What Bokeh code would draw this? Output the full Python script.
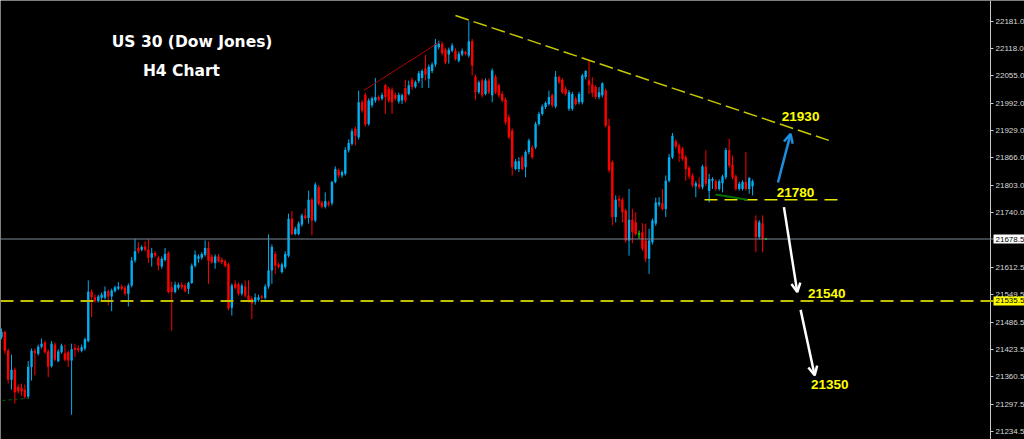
from bokeh.plotting import figure
from bokeh.models import Range1d, FixedTicker, Span, Label, Arrow, OpenHead, NumeralTickFormatter
from bokeh.core.properties import value
from bokeh.embed import file_html
from bokeh.resources import INLINE

# ---- H4 candles ----
opens = [21452,21464,21421,21354,21377,21337,21334,21331,21315,21383,
         21421,21414,21430,21440,21419,21385,21435,21397,21417,21415,
         21417,21398,21426,21425,21421,21426,21443,21557,21544,21535,
         21543,21543,21558,21546,21558,21564,21569,21566,21552,21571,
         21629,21658,21654,21661,21654,21635,21646,21635,21615,21630,
         21646,21567,21556,21566,21573,21571,21564,21577,21617,21633,
         21635,21642,21658,21638,21623,21638,21630,21627,21620,21520,
         21574,21574,21552,21569,21548,21541,21533,21538,21546,21543,
         21569,21606,21644,21620,21602,21614,21640,21725,21690,21690,
         21712,21733,21727,21769,21721,21798,21763,21753,21763,21761,
         21810,21837,21825,21829,21883,21898,21933,21913,21994,22011,
         21944,21987,21998,22006,22002,22033,22025,22023,22011,21996,
         21998,22027,22013,22046,22030,22043,22050,22072,22048,22066,
         22081,22121,22129,22115,22104,22113,22113,22090,22104,22110,
         22102,22135,22053,22017,22044,22013,22044,22010,22053,22033,
         22013,22000,21960,21929,21840,21840,21867,21844,21879,21890,
         21890,21944,21967,21983,21990,22010,21984,22052,22046,22025,
         21979,21979,22002,21994,21994,22052,22044,22035,22029,22006,
         22010,22021,21940,21856,21729,21771,21769,21744,21675,21723,
         21717,21690,21694,21675,21633,21671,21714,21758,21761,21748,
         21813,21867,21904,21894,21887,21867,21843,21825,21800,21806,
         21798,21846,21789,21813,21812,21794,21807,21821,21883,21850,
         21823,21794,21794,21810,21794,21800,21721,21683,21714,21678.5]
highs = [21472,21467,21426,21412,21382,21343,21345,21343,21397,21426,
         21426,21435,21449,21444,21424,21443,21440,21424,21437,21435,
         21421,21437,21437,21433,21435,21451,21583,21562,21550,21550,
         21555,21569,21562,21564,21571,21579,21574,21571,21576,21637,
         21679,21671,21664,21673,21679,21658,21650,21640,21638,21658,
         21650,21580,21580,21578,21579,21576,21580,21622,21652,21643,
         21648,21675,21673,21643,21643,21643,21636,21631,21624,21576,
         21583,21578,21576,21583,21583,21546,21553,21550,21550,21574,
         21689,21666,21650,21624,21624,21650,21737,21743,21707,21719,
         21737,21748,21790,21774,21809,21803,21767,21786,21767,21813,
         21846,21841,21837,21890,21908,21933,21938,22021,21999,22016,
         22003,22007,22050,22010,22016,22036,22030,22028,22016,22016,
         22014,22046,22044,22051,22044,22066,22070,22103,22081,22086,
         22140,22136,22134,22120,22120,22130,22118,22111,22118,22113,
         22181,22140,22058,22044,22049,22049,22049,22072,22058,22037,
         22019,22005,21966,21934,21863,21867,21872,21883,21910,21895,
         21949,21972,21989,21996,22021,22014,22066,22056,22050,22030,
         22022,22018,22007,22018,22060,22068,22090,22052,22033,22029,
         22040,22026,21956,21860,21779,21779,21774,21748,21794,21748,
         21740,21698,21715,21714,21702,21726,21774,21775,21794,21825,
         21875,21923,21909,21899,21891,21872,21847,21830,21812,21821,
         21850,21883,21829,21821,21816,21816,21827,21889,21910,21871,
         21827,21811,21814,21879,21821,21816,21733,21722,21733,21680]
lows = [21447,21414,21345,21331,21299,21322,21317,21310,21310,21352,
        21364,21410,21426,21414,21360,21382,21396,21394,21414,21396,
        21383,21273,21406,21417,21417,21421,21440,21498,21532,21532,
        21537,21539,21525,21512,21555,21560,21560,21548,21523,21567,
        21624,21645,21650,21650,21623,21615,21636,21606,21610,21627,
        21553,21467,21553,21562,21562,21555,21552,21575,21613,21624,
        21631,21638,21575,21622,21610,21624,21620,21613,21514,21502,
        21562,21548,21548,21544,21532,21494,21527,21534,21539,21539,
        21564,21575,21598,21610,21599,21610,21636,21687,21687,21687,
        21707,21723,21714,21687,21717,21756,21749,21749,21753,21756,
        21807,21820,21820,21825,21878,21894,21894,21908,21970,21938,
        21940,21982,21993,21996,21998,21967,21993,21967,21998,21991,
        21990,21993,22010,22023,22026,22038,22027,22044,22027,22061,
        22076,22116,22102,22082,22083,22109,22090,22086,22100,22102,
        22097,22056,22000,22013,22005,22010,22013,21994,22013,22005,
        21994,21943,21909,21825,21837,21833,21837,21821,21874,21863,
        21886,21940,21963,21978,21986,21982,21980,22036,22013,22009,
        21974,21974,21986,21989,21989,22047,22013,22006,22001,22001,
        22005,21936,21832,21710,21717,21752,21717,21670,21640,21669,
        21686,21679,21651,21625,21598,21666,21709,21753,21744,21729,
        21809,21863,21887,21856,21859,21813,21817,21797,21775,21793,
        21793,21801,21763,21794,21790,21790,21786,21816,21843,21816,
        21790,21790,21790,21790,21783,21779,21648,21678,21648,21677]
closes = [21464,21421,21354,21377,21325,21327,21327,21314,21384,21421,
          21415,21430,21437,21417,21384,21437,21400,21419,21433,21400,
          21398,21424,21424,21423,21429,21447,21557,21544,21535,21546,
          21550,21558,21546,21560,21567,21569,21564,21552,21571,21629,
          21650,21650,21660,21654,21635,21646,21640,21617,21633,21644,
          21556,21556,21573,21573,21567,21558,21577,21617,21642,21638,
          21644,21658,21629,21625,21638,21627,21625,21617,21518,21571,
          21566,21552,21571,21548,21535,21530,21544,21544,21543,21569,
          21606,21660,21617,21614,21620,21644,21725,21690,21702,21714,
          21733,21727,21769,21721,21804,21760,21753,21766,21758,21810,
          21840,21825,21833,21884,21900,21927,21917,21994,21975,21943,
          21998,22003,22006,22000,22011,22006,21998,21994,22002,22011,
          22010,21998,22033,22029,22040,22061,22066,22058,22076,22081,
          22129,22129,22107,22086,22115,22125,22094,22106,22113,22106,
          22135,22079,22017,22040,22010,22044,22017,22067,22017,22010,
          21998,21948,21913,21844,21858,21858,21840,21879,21906,21867,
          21944,21967,21984,21992,22006,21987,22053,22040,22017,22013,
          22017,22013,21990,22013,22056,22066,22033,22016,22006,22017,
          22038,21940,21837,21729,21769,21767,21740,21675,21723,21694,
          21690,21690,21656,21633,21675,21721,21763,21763,21748,21813,
          21867,21917,21892,21876,21863,21840,21823,21802,21807,21798,
          21846,21806,21817,21817,21794,21812,21823,21884,21848,21821,
          21794,21806,21810,21794,21820,21812,21683,21717,21678.5,21678.5]
bars = list(range(len(opens)))

# ---- price axis ----
tick_values = [22181.0, 22118.0, 22055.0, 21992.0, 21929.0, 21866.0, 21803.0, 21740.0,
               21612.5, 21549.5, 21486.5, 21423.5, 21360.5, 21297.5, 21234.5]
current_price = 21678.5
support_level = 21535.5
axis_bar = 296.28          # bar-index position where the price scale sits

# ---- drawn objects (bar index, price) ----
resist_x = [136.0, 247.85]; resist_y = [22194, 21906]
rise_x = [108.5, 131.0]; rise_y = [22021, 22132]
level_x = [210.6, 250.7]; level_y = [21769, 21769]
green1_x = [0.3, 7.8]; green1_y = [21306, 21311]
green2_x = [213.9, 223.5]; green2_y = [21781, 21769]
arrows = [((232.6, 21809), (236.4, 21921), "#1c8fe0"),
          ((234.4, 21752), (238.4, 21556), "#ffffff"),
          ((239.4, 21515), (243.6, 21364), "#ffffff")]
target_x = [239.4, 237.9, 247.2, 248.1]
target_y = [21962, 21786, 21552, 21344]
target_text = ["21930", "21780", "21540", "21350"]
title_x = [57.1, 53.9]
title_y = [22132, 22065]
title_text = ["US 30 (Dow Jones)", "H4 Chart"]

BULL, BEAR, DOJI = "#00aeef", "#ff0000", "#00ff00"
colors, tops, bottoms = [], [], []
for o, c in zip(opens, closes):
    if c > o:
        colors.append(BULL)
    elif c < o:
        colors.append(BEAR)
    else:
        colors.append(DOJI)
    t, b = max(o, c), min(o, c)
    if t - b < 2.4:
        t, b = t + 1.2, b - 1.2
    tops.append(t)
    bottoms.append(b)

p = figure(width=1024, height=439,
           x_range=Range1d(-0.2996, 306.47), y_range=Range1d(21215.97, 22228.75),
           output_backend="svg", toolbar_location=None,
           x_axis_location=None, y_axis_location="right",
           min_border=0, min_border_left=0, min_border_right=0,
           min_border_top=0, min_border_bottom=0)
p.background_fill_color = "black"
p.border_fill_color = "black"
p.outline_line_color = None
p.grid.visible = False

ax = p.yaxis[0]
ax.fixed_location = axis_bar
ax.ticker = FixedTicker(ticks=tick_values)
ax.formatter = NumeralTickFormatter(format="0.0")
ax.axis_line_color = "#c8c8c8"
ax.major_tick_line_color = "#c8c8c8"
ax.major_tick_in = 0
ax.major_tick_out = 3
ax.minor_tick_line_color = None
ax.major_label_standoff = 2
ax.major_label_text_color = "#d8d8d8"
ax.major_label_text_font = "Liberation Sans"
ax.major_label_text_font_size = "8px"

p.add_layout(Span(location=current_price, dimension="width",
                  line_color="#7b8896", line_width=1))
p.add_layout(Span(location=support_level, dimension="width",
                  line_color="#c0c000", line_width=2, line_dash="13 7"))

p.segment(x0=bars, y0=lows, x1=bars, y1=highs, line_color=colors, line_width=1)
p.vbar(x=bars, width=0.72, top=tops, bottom=bottoms, fill_color=colors, line_color=None)

p.line(resist_x, resist_y, line_color="#c8c800", line_width=1.5, line_dash="14 5")
p.line(rise_x, rise_y, line_color="#b40000", line_width=1)
p.line(level_x, level_y, line_color="#e6e600", line_width=1.5, line_dash="13 7")
p.line(green1_x, green1_y, line_color="#006400", line_width=1, line_dash="3 3")
p.line(green2_x, green2_y, line_color="#007000", line_width=2)

for (xs, ys), (xe, ye), col in arrows:
    p.add_layout(Arrow(x_start=xs, y_start=ys, x_end=xe, y_end=ye,
                       line_color=col, line_width=2.5,
                       end=OpenHead(size=9, line_color=col, line_width=2.5)))

p.text(x=target_x, y=target_y, text=target_text, text_color="#ffff00",
       text_font=value("Liberation Sans"), text_font_style="bold",
       text_font_size="13.5px", text_align="center", text_baseline="middle")
p.text(x=title_x, y=title_y, text=title_text, text_color="white",
       text_font=value("DejaVu Sans"), text_font_style="bold",
       text_font_size="15.5px", text_align="center", text_baseline="middle")

# price tags on the scale
p.add_layout(Label(x=axis_bar, y=current_price, x_offset=3, text="21678.5",
                   text_baseline="middle", text_align="left",
                   text_font="Liberation Sans", text_font_size="8px", text_color="black",
                   background_fill_color="white", padding=2))
p.add_layout(Label(x=axis_bar, y=support_level, x_offset=3, text="21535.5",
                   text_baseline="middle", text_align="left",
                   text_font="Liberation Sans", text_font_size="8px", text_color="black",
                   background_fill_color="#ffff00", padding=2))

open("out.html", "w").write(file_html(p, INLINE))
